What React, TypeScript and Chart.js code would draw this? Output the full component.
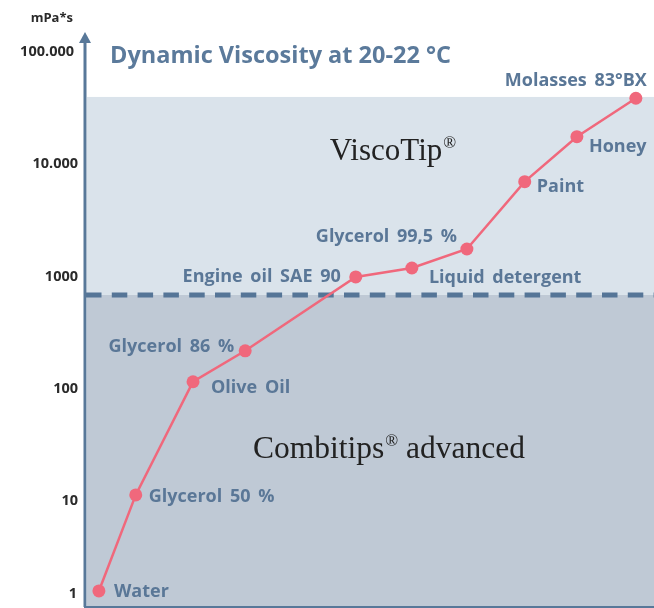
import React, { useEffect, useRef } from "react";
import { Chart, registerables } from "chart.js";

Chart.register(...registerables);

// ---- data ----
const substances = [
  "Water",
  "Glycerol 50 %",
  "Olive Oil",
  "Glycerol 86 %",
  "Engine oil SAE 90",
  "Liquid detergent",
  "Glycerol 99,5 %",
  "Paint",
  "Honey",
  "Molasses 83°BX",
];
// horizontal position of each substance along the (unitless) x axis, 0..100
const positions = [2.1, 8.6, 18.7, 27.9, 47.4, 57.3, 67.0, 77.2, 86.4, 96.8];
// viscosity in mPa*s
const viscosity = [1.55, 11.1, 113, 213, 968, 1164, 1718, 6830, 17180, 37760];

const yTickValues = [1.49, 10, 100, 1000, 10000, 100000];
const yTickLabels = ["1", "10", "100", "1000", "10.000", "100.000"];

// zone limits (mPa*s)
const viscoTipTop = 38800;
const zoneBoundary = 670;

// ---- styling / placement ----
const tickLabelRight = [77, 78, 78, 78, 78, 74];
const labelPlacement: { dx: number; dy: number; align: CanvasTextAlign }[] = [
  { dx: 15, dy: 6, align: "left" },
  { dx: 13, dy: 7, align: "left" },
  { dx: 18, dy: 11, align: "left" },
  { dx: -11, dy: 1, align: "right" },
  { dx: -15, dy: 5, align: "right" },
  { dx: 17, dy: 15, align: "left" },
  { dx: -10, dy: -7, align: "right" },
  { dx: 12, dy: 10, align: "left" },
  { dx: 12, dy: 15, align: "left" },
  { dx: 11, dy: -12, align: "right" },
];

const AXIS_BLUE = "#587899";
const LABEL_BLUE = "#5a7797";
const PINK = "#f0687c";
const LIGHT_BAND = "#dae3eb";
const DARK_BAND = "#bfc9d5";
const SANS = "'Open Sans', 'Noto Sans', sans-serif";
const SERIF = "'Liberation Serif', 'DejaVu Serif', serif";

// draws "before® after" centred at cx with a small raised ®
function drawRegistered(ctx: CanvasRenderingContext2D, before: string, after: string, cx: number, baseline: number, size: number) {
  const big = `${size}px ${SERIF}`;
  const small = `${Math.round(size * 0.55)}px ${SERIF}`;
  ctx.font = big;
  const w1 = ctx.measureText(before).width;
  const w3 = ctx.measureText(after).width;
  ctx.font = small;
  const w2 = ctx.measureText("®").width + 1;
  const total = w1 + w2 + w3;
  let x = cx - total / 2;
  ctx.textAlign = "left";
  ctx.textBaseline = "alphabetic";
  ctx.font = big;
  ctx.fillText(before, x, baseline);
  x += w1;
  ctx.font = small;
  ctx.fillText("®", x + 1, baseline - size * 0.38);
  x += w2;
  ctx.font = big;
  ctx.fillText(after, x, baseline);
}

const decorPlugin = {
  id: "decor",
  beforeDatasetsDraw(chart: any) {
    const { ctx, chartArea, scales } = chart;
    const y = scales.y;
    const left = chartArea.left;
    const right = chartArea.right;
    const yTop = y.getPixelForValue(viscoTipTop);
    const yMid = y.getPixelForValue(zoneBoundary);
    const yBot = chartArea.bottom;
    ctx.save();
    ctx.fillStyle = LIGHT_BAND;
    ctx.fillRect(left, yTop, right - left, yMid - yTop);
    ctx.fillStyle = DARK_BAND;
    ctx.fillRect(left, yMid, right - left, yBot - yMid);

    // zone names
    ctx.fillStyle = "#222222";
    drawRegistered(ctx, "ViscoTip", "", 393, 160, 31);
    drawRegistered(ctx, "Combitips", " advanced", 389, 458, 31.5);

    // dashed boundary
    ctx.strokeStyle = "#557597";
    ctx.lineWidth = 5;
    ctx.setLineDash([15.5, 10.3]);
    ctx.beginPath();
    ctx.moveTo(left - 1, yMid);
    ctx.lineTo(right, yMid);
    ctx.stroke();
    ctx.setLineDash([]);

    // axes
    ctx.strokeStyle = AXIS_BLUE;
    ctx.lineWidth = 3;
    ctx.beginPath();
    ctx.moveTo(85, 42);
    ctx.lineTo(85, yBot + 1);
    ctx.stroke();
    ctx.lineWidth = 2;
    ctx.beginPath();
    ctx.moveTo(84, yBot + 1);
    ctx.lineTo(right, yBot + 1);
    ctx.stroke();
    ctx.fillStyle = AXIS_BLUE;
    ctx.beginPath();
    ctx.moveTo(85, 32);
    ctx.lineTo(91, 43);
    ctx.lineTo(79, 43);
    ctx.closePath();
    ctx.fill();

    // tick labels
    ctx.fillStyle = "#2a2a2a";
    ctx.font = `bold 14.5px ${SANS}`;
    ctx.textAlign = "right";
    ctx.textBaseline = "middle";
    yTickValues.forEach((v, i) => {
      ctx.fillText(yTickLabels[i], tickLabelRight[i], y.getPixelForValue(v) + 1);
    });
    ctx.font = `bold 13px ${SANS}`;
    ctx.fillText("mPa*s", 73, 18);

    // title
    ctx.fillStyle = "#5b7a9b";
    ctx.font = `bold 23.5px ${SANS}`;
    ctx.textAlign = "left";
    ctx.textBaseline = "alphabetic";
    ctx.fillText("Dynamic Viscosity at 20-22 °C", 110, 63);
    ctx.restore();
  },
  afterDatasetsDraw(chart: any) {
    const { ctx, scales } = chart;
    ctx.save();
    ctx.fillStyle = LABEL_BLUE;
    ctx.font = `bold 18px ${SANS}`;
    (ctx as any).wordSpacing = "3px";
    ctx.textBaseline = "alphabetic";
    substances.forEach((name, i) => {
      const px = scales.x.getPixelForValue(positions[i]);
      const py = scales.y.getPixelForValue(viscosity[i]);
      const p = labelPlacement[i];
      ctx.textAlign = p.align;
      ctx.fillText(name, px + p.dx, py + p.dy);
    });
    (ctx as any).wordSpacing = "0px";
    ctx.restore();
  },
};

export default function App() {
  const ref = useRef<HTMLCanvasElement | null>(null);
  useEffect(() => {
    document.body.style.margin = "0";
    const canvas = ref.current!;
    const chart = new Chart(canvas, {
      type: "line",
      data: {
        datasets: [
          {
            data: positions.map((x, i) => ({ x, y: viscosity[i] })),
            borderColor: PINK,
            backgroundColor: PINK,
            borderWidth: 2.5,
            pointRadius: 6.5,
            pointHoverRadius: 6.5,
            pointBorderWidth: 0,
            pointBackgroundColor: PINK,
            tension: 0,
            clip: false,
          },
        ],
      },
      options: {
        responsive: false,
        animation: false,
        layout: { autoPadding: false, padding: { left: 87, top: 40, right: 0, bottom: 2 } },
        scales: {
          x: { type: "linear", min: 0, max: 100, display: false },
          y: { type: "logarithmic", min: 1.138, max: 124700, display: false },
        },
        plugins: { legend: { display: false }, tooltip: { enabled: false } },
      },
      plugins: [decorPlugin],
    });
    return () => chart.destroy();
  }, []);
  return (
    <div style={{ width: 654, height: 608 }}>
      <canvas ref={ref} width={654} height={608} style={{ display: "block" }} />
    </div>
  );
}
